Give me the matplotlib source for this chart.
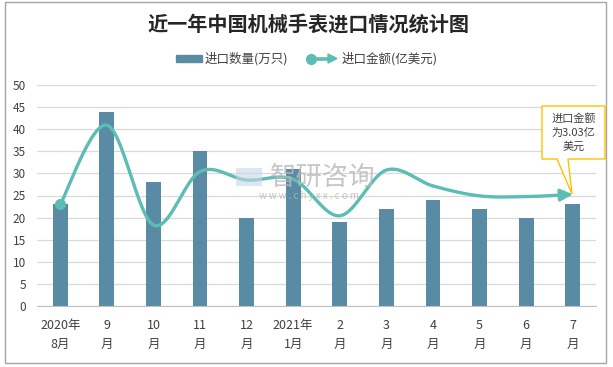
import matplotlib
matplotlib.use("Agg")
import matplotlib.pyplot as plt
import numpy as np
from matplotlib.patches import Rectangle, Polygon
from matplotlib.lines import Line2D

plt.rcParams['font.family'] = ['Noto Sans CJK SC', 'DejaVu Sans']

categories = ["2020年\n8月", "9\n月", "10\n月", "11\n月", "12\n月", "2021年\n1月",
              "2\n月", "3\n月", "4\n月", "5\n月", "6\n月", "7\n月"]
quantity = [23, 44, 28, 35, 20, 31, 19, 22, 24, 22, 20, 23]          # 万只
amount = [2.76, 4.91, 2.20, 3.65, 3.42, 3.44, 2.45, 3.69, 3.26, 2.99, 2.97, 3.03]  # 亿美元

W, H = 613, 367
fig = plt.figure(figsize=(W / 100, H / 100), dpi=100)

def fx(px):
    return px / W

def fy(py):
    return 1 - py / H

ax = fig.add_axes([fx(37), fy(306), fx(596) - fx(37), fy(85) - fy(306)])
x = np.arange(len(categories))
bar_color = "#5A8BA4"
line_color = "#5BBDB3"

ax.bar(x, quantity, width=0.32, color=bar_color, zorder=2)
ax.set_xlim(-0.5, len(categories) - 0.5)
ax.set_ylim(0, 50)
ax.set_yticks(range(0, 51, 5))
ax.yaxis.grid(True, color="#D9D9D9", linewidth=0.9, zorder=0)
ax.set_axisbelow(True)
for s in ["top", "right", "left"]:
    ax.spines[s].set_visible(False)
ax.spines["bottom"].set_color("#BFBFBF")
ax.tick_params(axis="y", length=0, labelsize=8.5, colors="#404040", pad=8)
ax.tick_params(axis="x", length=0, labelsize=9, colors="#404040", pad=9.5)
ax.set_xticks(x)
ax.set_xticklabels(categories, linespacing=1.6)

# secondary (hidden) axis for amount
ax2 = ax.twinx()
ax2.set_ylim(0, 6)
ax2.axis("off")

# smooth curve (Excel-like bezier through points)
pts = np.column_stack([x, amount]).astype(float)
curve = []
n = len(pts)
for i in range(n - 1):
    p0 = pts[max(i - 1, 0)]
    p1 = pts[i]
    p2 = pts[i + 1]
    p3 = pts[min(i + 2, n - 1)]
    c1 = p1 + (p2 - p0) / 6
    c2 = p2 - (p3 - p1) / 6
    t = np.linspace(0, 1, 30)[:, None]
    seg = (1 - t) ** 3 * p1 + 3 * (1 - t) ** 2 * t * c1 + 3 * (1 - t) * t ** 2 * c2 + t ** 3 * p2
    curve.append(seg if i == 0 else seg[1:])
curve = np.vstack(curve)
ax2.plot(curve[:-4, 0], curve[:-4, 1], color=line_color, lw=2.4, solid_capstyle="round", zorder=3)
ax2.annotate("", xy=(curve[-1, 0], curve[-1, 1]), xytext=(curve[-6, 0], curve[-6, 1]),
             arrowprops=dict(arrowstyle="-|>,head_length=0.7,head_width=0.35",
                             color=line_color, lw=2.4, shrinkA=0, shrinkB=0))
ax2.plot([x[0]], [amount[0]], "o", color=line_color, ms=7, zorder=4)

# title
fig.text(fx(308), fy(24), "近一年中国机械手表进口情况统计图", ha="center", va="center",
         fontsize=14.5, fontweight="bold", color="#262626")

# legend (manual)
fig.add_artist(Rectangle((fx(176), fy(62)), fx(202) - fx(176), fy(55) - fy(62),
                         transform=fig.transFigure, color=bar_color))
fig.text(fx(205), fy(58.5), "进口数量(万只)", ha="left", va="center", fontsize=9, color="#404040")
fig.add_artist(Line2D([fx(310), fx(330)], [fy(58.5), fy(58.5)], transform=fig.transFigure,
                      color=line_color, lw=2.6))
fig.add_artist(Line2D([fx(311)], [fy(58.5)], transform=fig.transFigure, marker="o",
                      color=line_color, ms=7))
fig.add_artist(Polygon([[fx(328), fy(54)], [fx(337), fy(58.5)], [fx(328), fy(63)]],
                       closed=True, transform=fig.transFigure, color=line_color))
fig.text(fx(342), fy(58.5), "进口金额(亿美元)", ha="left", va="center", fontsize=9, color="#404040")

# callout
callout = [[fx(542), fy(106)], [fx(605), fy(106)], [fx(605), fy(159)], [fx(568), fy(159)],
           [fx(572), fy(194)], [fx(557), fy(159)], [fx(542), fy(159)]]
fig.add_artist(Polygon(callout, closed=True, transform=fig.transFigure,
                       facecolor="white", edgecolor="#FFC000", lw=1.0, zorder=5))
fig.text(fx(573.5), fy(132.5), "进口金额\n为3.03亿\n美元", ha="center", va="center",
         fontsize=8, color="#404040", linespacing=1.45, zorder=6)

# watermark
fig.add_artist(Rectangle((fx(236), fy(186)), fx(262) - fx(236), fy(168) - fy(186),
                         transform=fig.transFigure, facecolor="#C9D6E8", edgecolor="none", alpha=0.6))
fig.text(fx(323), fy(177), "智研咨询", ha="center", va="center", fontsize=19,
         color="#B8B8B8", alpha=0.8)
fig.text(fx(309), fy(196), "w w w . c h y x x . c o m", ha="center", va="center",
         fontsize=7, color="#B8B8B8", alpha=0.8)

# outer border
fig.add_artist(Rectangle((fx(5), fy(363)), fx(606) - fx(5), fy(2) - fy(363),
                         transform=fig.transFigure, fill=False, edgecolor="#A6A6A6", lw=1.0))

fig.savefig("out.png", dpi=100)
